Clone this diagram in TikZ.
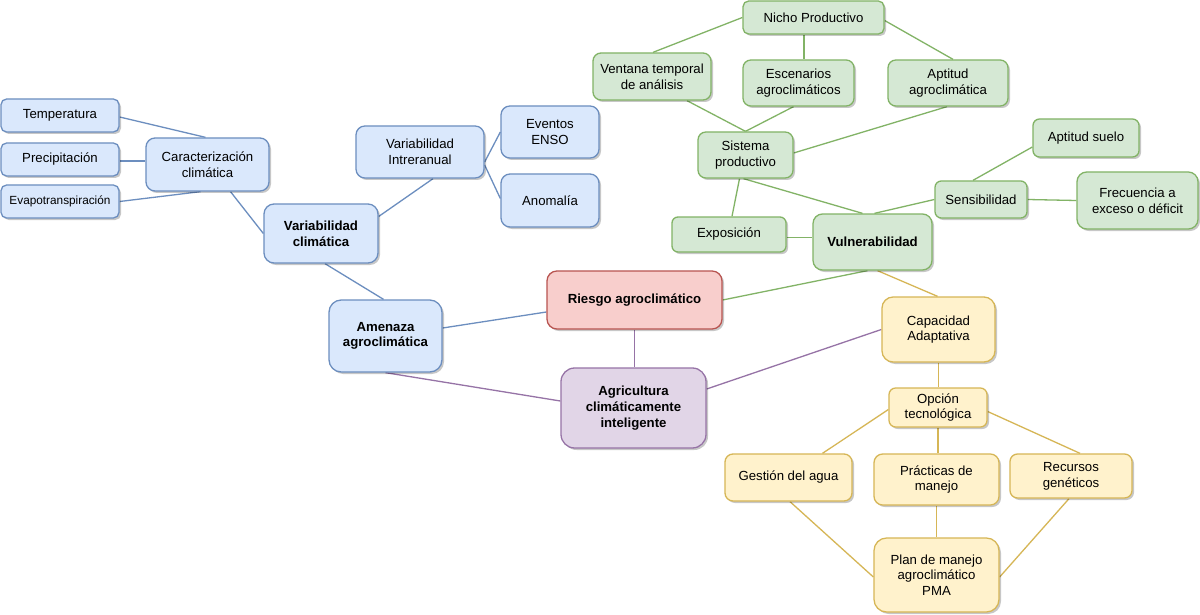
\documentclass[tikz,border=0pt]{standalone}
\usepackage{fontspec}
\setmainfont{Liberation Sans}
\usetikzlibrary{shadows,calc}
\definecolor{bfill}{HTML}{DAE8FC}\definecolor{bline}{HTML}{6C8EBF}
\definecolor{rfill}{HTML}{F8CECC}\definecolor{rline}{HTML}{B85450}
\definecolor{pfill}{HTML}{E1D5E7}\definecolor{pline}{HTML}{9673A6}
\definecolor{gfill}{HTML}{D5E8D4}\definecolor{gline}{HTML}{82B366}
\definecolor{yfill}{HTML}{FFF2CC}\definecolor{yline}{HTML}{D6B656}
\pgfdeclarelayer{back}
\pgfdeclarelayer{edges}
\pgfsetlayers{back,edges,main}
\newcommand\mybx[7]{%
  \pgfmathsetmacro\myrc{0.17*min(#4,#5)}%
  \node[#6, minimum width=#4pt, minimum height=#5pt, rounded corners=\myrc pt] (#1) at (#2,#3) {#7};%
}
\begin{document}
\begin{tikzpicture}[x=1pt,y=-1pt,
  base/.style={draw, line width=1.3pt, inner sep=0pt, align=center, text=black,
    font=\fontsize{13.2}{15.7}\selectfont,
    drop shadow={shadow xshift=2pt, shadow yshift=-2pt, opacity=0.22, fill=black}},
  bnode/.style={base, fill=bfill, draw=bline},
  rnode/.style={base, fill=rfill, draw=rline},
  pnode/.style={base, fill=pfill, draw=pline},
  gnode/.style={base, fill=gfill, draw=gline},
  ynode/.style={base, fill=yfill, draw=yline},
  bld/.style={font=\fontsize{13.2}{15.7}\selectfont\bfseries},
  be/.style={draw=bline, line width=1.3pt},
  pe/.style={draw=pline, line width=1.3pt},
  ge/.style={draw=gline, line width=1.3pt},
  ye/.style={draw=yline, line width=1.3pt}]
\begin{pgfonlayer}{back}
\fill[white] (0,0) rectangle (1200,615);
\end{pgfonlayer}
\useasboundingbox (0,0) rectangle (1200,615);
% blue
\mybx{temp}{60}{115.5}{118}{33}{bnode}{Temperatura}
\mybx{prec}{60}{159.5}{118}{33}{bnode}{Precipitación}
\mybx{evap}{60}{201.5}{118}{33}{bnode,font=\fontsize{11.8}{14}\selectfont}{Evapotranspiración}
\mybx{car}{207.5}{164.5}{123}{53}{bnode}{Caracterización\\climática}
\mybx{vc}{321}{233.5}{114}{59}{bnode,bld}{Variabilidad\\climática}
\mybx{vi}{420}{152}{128}{52}{bnode}{Variabilidad\\Intreranual}
\mybx{enso}{550}{132}{98}{52}{bnode}{Eventos\\ENSO}
\mybx{anom}{550}{200.5}{98}{53}{bnode}{Anomalía}
\mybx{amen}{385.5}{336}{113}{72}{bnode,bld}{Amenaza\\agroclimática}
% red / purple
\mybx{riesgo}{634.5}{300}{175}{58}{rnode,bld}{Riesgo agroclimático}
\mybx{agri}{633.5}{408}{145}{80}{pnode,bld}{Agricultura\\climáticamente\\inteligente}
% green
\mybx{nicho}{813.5}{17.5}{141}{33}{gnode}{Nicho Productivo}
\mybx{vent}{652}{76.5}{118}{47}{gnode}{Ventana temporal\\de análisis}
\mybx{esc}{798.5}{83}{111}{46}{gnode}{Escenarios\\agroclimáticos}
\mybx{apt}{948}{83}{120}{46}{gnode}{Aptitud\\agroclimática}
\mybx{sis}{745.5}{155}{95}{46}{gnode}{Sistema\\productivo}
\mybx{exp}{729}{234.5}{114}{35}{gnode}{Exposición}
\mybx{vul}{872.5}{242}{119}{56}{gnode,bld}{Vulnerabilidad}
\mybx{sens}{981}{199.5}{92}{37}{gnode}{Sensibilidad}
\mybx{suelo}{1086}{138}{106}{38}{gnode}{Aptitud suelo}
\mybx{frec}{1137.5}{200.5}{121}{57}{gnode}{Frecuencia a\\exceso o déficit}
% yellow
\mybx{cap}{938.5}{329.5}{113}{65}{ynode}{Capacidad\\Adaptativa}
\mybx{opc}{938}{407.5}{98}{39}{ynode}{Opción\\tecnológica}
\mybx{gest}{788.5}{477.5}{127}{47}{ynode}{Gestión del agua}
\mybx{prac}{936.5}{479.5}{125}{51}{ynode}{Prácticas de\\manejo}
\mybx{rec}{1071}{476}{122}{44}{ynode}{Recursos\\genéticos}
\mybx{plan}{936.5}{575}{125}{74}{ynode}{Plan de manejo\\agroclimático\\PMA}
% connectors
\begin{pgfonlayer}{edges}
% blue
\draw[be] ([yshift=-1.5pt]temp.east) -- ([xshift=-2pt]car.north);
\draw[be] ([yshift=-1.5pt]prec.east) -- ([yshift=-1.5pt]prec.east -| car.west);
\draw[be] (evap.east) -- ([xshift=-7pt]car.south);
\draw[be] ([xshift=23pt]car.south) -- (vc.west);
\draw[be] ([yshift=17pt]vc.east) -- ([xshift=13pt]vi.south);
\draw[be] ([yshift=-10pt]vi.east) -- (enso.west);
\draw[be] ([yshift=-13pt]vi.east) -- ([yshift=2pt]anom.west);
\draw[be] ([xshift=4pt]vc.south) -- ([xshift=-2pt]amen.north);
\draw[be] ([yshift=8pt]amen.east) -- ([yshift=-12pt]riesgo.west);
% purple
\draw[pe] (amen.south) -- ([yshift=7pt]agri.west);
\draw[pe] (riesgo.south) -- (riesgo.south |- agri.north);
\draw[pe] ([yshift=19pt]agri.east) -- (cap.west);
% green
\draw[ge] (riesgo.east) -- ([xshift=-5pt]vul.south);
\draw[ge] ([xshift=-10pt]vul.north) -- ([xshift=-2pt]sis.south);
\draw[ge] ([xshift=2pt]vul.north) -- (sens.west);
\draw[ge] ([yshift=-3pt]exp.east) -- ([yshift=-3pt]exp.east -| vul.west);
\draw[ge] ([xshift=3pt]exp.north) -- ([xshift=-6pt]sis.south);
\draw[ge] (sis.north) -- ([xshift=35pt]vent.south);
\draw[ge] (sis.north) -- ([xshift=-5pt]esc.south);
\draw[ge] ([yshift=2pt]sis.east) -- ([xshift=-1pt]apt.south);
\draw[ge] (nicho.west) -- ([xshift=1pt]vent.north);
\draw[ge] ([xshift=-9.5pt]nicho.south) -- ([xshift=-9.5pt]nicho.south |- esc.north);
\draw[ge] ([yshift=-3pt]nicho.east) -- ([xshift=5pt]apt.north);
\draw[ge] ([xshift=-8pt]sens.north) -- ([yshift=-9pt]suelo.west);
\draw[ge] (sens.east) -- (frec.west);
% yellow
\draw[ye] ([xshift=5pt]vul.south) -- ([xshift=-1pt]cap.north);
\draw[ye] (cap.south) -- (cap.south |- opc.north);
\draw[ye] ([yshift=-2pt]opc.west) -- ([xshift=34pt]gest.north);
\draw[ye] (opc.south) -- (opc.south |- prac.north);
\draw[ye] ([yshift=-4pt]opc.east) -- ([xshift=9pt]rec.north);
\draw[ye] ([xshift=1.5pt]gest.south) -- ([yshift=-2pt]plan.west);
\draw[ye] (prac.south) -- (plan.north);
\draw[ye] ([xshift=-2pt]rec.south) -- ([yshift=-2pt]plan.east);
\end{pgfonlayer}
\end{tikzpicture}
\end{document}
